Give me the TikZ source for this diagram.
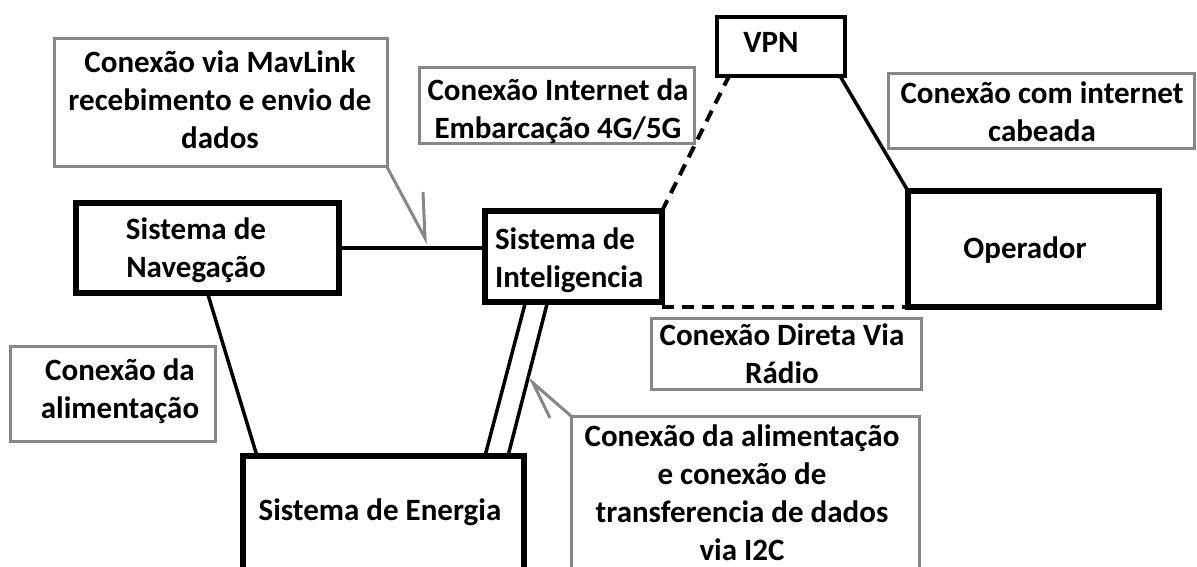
\documentclass[tikz,border=0pt]{standalone}
\usepackage{fontspec}
\setmainfont{Carlito}
\usetikzlibrary{calc}
\definecolor{callgray}{RGB}{135,135,135}
\begin{document}
\begin{tikzpicture}[x=1pt,y=-1pt,
  every node/.style={inner sep=0pt, outer sep=0pt},
  txt/.style={font=\fontsize{31}{38}\selectfont\bfseries, align=center, anchor=base},
  sysbox/.style={draw=black, line width=6pt, rectangle},
  callbox/.style={draw=callgray, line width=3pt, rectangle},
  conn/.style={draw=black, line width=3.5pt},
  dconn/.style={draw=black, line width=4pt, dash pattern=on 12pt off 8pt},
  pointer/.style={draw=callgray, line width=3pt, line join=miter}]
\path[use as bounding box] (0,0) rectangle (1197,567);
\clip (0,0) rectangle (1197,567);
% system boxes
\node[sysbox, minimum width=263pt, minimum height=90pt] (navbox) at (207.5,248) {};
\node[sysbox, minimum width=177pt, minimum height=91pt] (intbox) at (573.5,256.5) {};
\node[sysbox, line width=4.5pt, minimum width=128pt, minimum height=59pt] (vpnbox) at (781,46.5) {};
\node[sysbox, minimum width=251pt, minimum height=116pt] (opbox) at (1033.5,249) {};
\node[sysbox, minimum width=281pt, minimum height=144pt] (enbox) at (383.5,528) {};
% callout boxes
\node[callbox, minimum width=333pt, minimum height=128pt] (mavbox) at (220.5,103) {};
\node[callbox, minimum width=275pt, minimum height=76pt] (netbox) at (556.5,106) {};
\node[callbox, minimum width=306pt, minimum height=75pt] (cabbox) at (1041,111.5) {};
\node[callbox, minimum width=270pt, minimum height=71pt] (dirbox) at (786,353.5) {};
\node[callbox, minimum width=205pt, minimum height=95pt] (alimbox) at (112.5,393.5) {};
\node[callbox, minimum width=348pt, minimum height=184pt] (i2cbox) at (745,508) {};
% texts (anchor = baseline of last line)
\node[txt] (navtxt) at (196,277) {Sistema de\\Navegação};
\node[txt, align=left, anchor=base west] (inttxt) at (495,287) {Sistema de\\Inteligencia};
\node[txt] (vpntxt) at (771,53) {VPN};
\node[txt] (optxt) at (1025,258) {Operador};
\node[txt] (entxt) at (380,520) {Sistema de Energia};
\node[txt] (mavtxt) at (220,149) {Conexão via MavLink\\recebimento e envio de\\dados};
\node[txt] (nettxt) at (558,139) {Conexão Internet da\\Embarcação 4G/5G};
\node[txt] (cabtxt) at (1042,142) {Conexão com internet\\cabeada};
\node[txt] (dirtxt) at (782,383) {Conexão Direta Via\\Rádio};
\node[txt] (alimtxt) at (120,418) {Conexão da\\alimentação};
\node[txt] (i2ctxt) at (742,560) {Conexão da alimentação\\e conexão de\\transferencia de dados\\via I2C};
% connectors
\draw[conn] (navbox.east) -- (navbox.east -| intbox.west);
\draw[dconn] (intbox.north east) -- ($(vpnbox.south west)+(12,0)$);
\draw[conn] ($(vpnbox.south east)+(-5,0)$) -- (opbox.north west);
\draw[dconn] (intbox.south east |- opbox.south west) -- (opbox.south west);
\draw[conn] (navbox.south) -- ($(enbox.north west)+(14,0)$);
\draw[conn] ($(intbox.south)+(-48,0)$) -- ($(enbox.north east)+(-39,0)$);
\draw[conn] ($(intbox.south)+(-26,0)$) -- ($(enbox.north east)+(-16,0)$);
% callout pointers
\coordinate (maptip) at (425,238);
\coordinate (mapb) at (423,192);
\draw[pointer] (mavbox.south east) -- (maptip) -- (mapb);
\coordinate (i2ctip) at (533,383);
\coordinate (i2cb) at (550,418);
\draw[pointer] (i2cbox.north west) -- (i2ctip) -- (i2cb);
\end{tikzpicture}
\end{document}
